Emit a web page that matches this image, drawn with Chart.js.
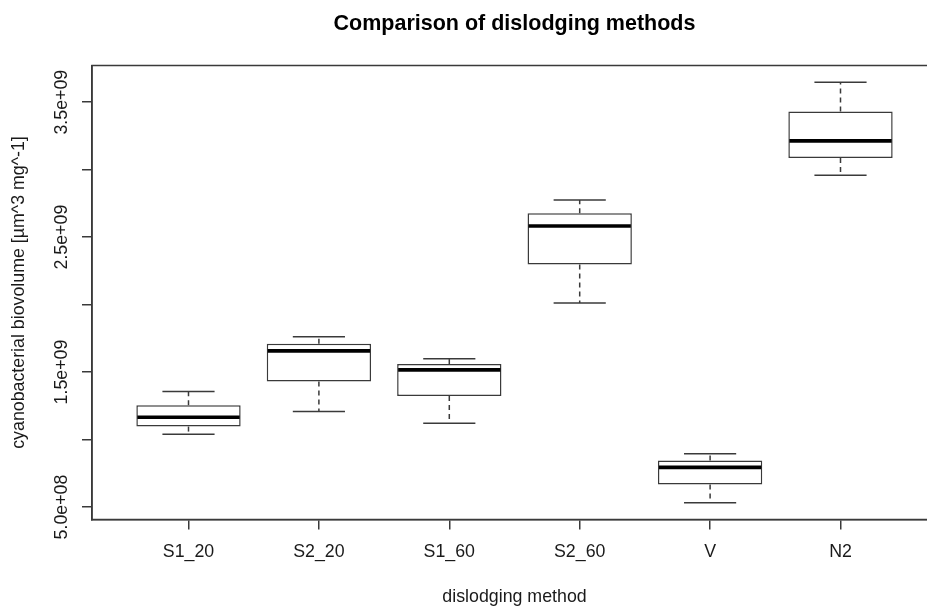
<!DOCTYPE html>
<html>
<head>
<meta charset="utf-8">
<script src="https://cdn.jsdelivr.net/npm/chart.js@4.4.1/dist/chart.umd.min.js"></script>
<style>
  html, body { margin: 0; padding: 0; background: #fff; overflow: hidden; }
  #wrap { width: 940px; height: 608px; }
  canvas { display: block; }
</style>
</head>
<body>
<div id="wrap"><canvas id="myChart" width="940" height="608"></canvas></div>
<script>
// values
var methods = ['S1_20', 'S2_20', 'S1_60', 'S2_60', 'V', 'N2'];
var whiskerLow    = [1.039e9, 1.207e9, 1.121e9, 2.011e9, 5.32e8, 2.958e9];
var lowerQuartile = [1.096e9, 1.430e9, 1.323e9, 2.297e9, 6.66e8, 3.087e9];
var medians       = [1.165e9, 1.657e9, 1.516e9, 2.582e9, 7.94e8, 3.213e9];
var upperQuartile = [1.254e9, 1.709e9, 1.559e9, 2.676e9, 8.44e8, 3.430e9];
var whiskerHigh   = [1.355e9, 1.761e9, 1.598e9, 2.775e9, 8.95e8, 3.647e9];
var yTicks      = [5e8, 1e9, 1.5e9, 2e9, 2.5e9, 3e9, 3.5e9];
var yTickLabels = ['5.0e+08', '', '1.5e+09', '', '2.5e+09', '', '3.5e+09'];

var lineColor = '#3a3a3a';
var textColor = '#1a1a1a';
Chart.defaults.font.family = '"Liberation Sans", Arial, sans-serif';
Chart.defaults.color = textColor;

// R style range: data range stretched by 4%
var lo = Math.min.apply(null, whiskerLow);
var hi = Math.max.apply(null, whiskerHigh);
var pad = (hi - lo) * 0.04;

// whiskers, medians, frame and rotated y labels
var boxExtras = {
  id: 'boxExtras',
  afterDatasetsDraw: function (chart) {
    var ctx = chart.ctx, x = chart.scales.x, y = chart.scales.y;
    var area = chart.chartArea;
    function seg(x1, y1, x2, y2) {
      ctx.beginPath(); ctx.moveTo(x1, y1); ctx.lineTo(x2, y2); ctx.stroke();
    }
    ctx.save();
    methods.forEach(function (m, i) {
      var cx = x.getPixelForValue(i + 1);
      var half = x.getPixelForValue(i + 1.4) - cx;
      var cap = x.getPixelForValue(i + 1.2) - cx;
      var yHi = y.getPixelForValue(whiskerHigh[i]);
      var yLo = y.getPixelForValue(whiskerLow[i]);
      ctx.strokeStyle = lineColor;
      ctx.lineWidth = 1.5;
      ctx.setLineDash([5, 4]);
      seg(cx, y.getPixelForValue(upperQuartile[i]), cx, yHi);
      seg(cx, y.getPixelForValue(lowerQuartile[i]), cx, yLo);
      ctx.setLineDash([]);
      seg(cx - cap, yHi, cx + cap, yHi);
      seg(cx - cap, yLo, cx + cap, yLo);
      ctx.strokeStyle = '#000';
      ctx.lineWidth = 3.6;
      var ym = y.getPixelForValue(medians[i]);
      seg(cx - half + 1, ym, cx + half - 1, ym);
    });
    ctx.strokeStyle = lineColor;
    ctx.lineWidth = 1.5;
    ctx.strokeRect(area.left, area.top, area.right - area.left, area.bottom - area.top);

    ctx.fillStyle = textColor;
    ctx.font = '17.8px "Liberation Sans", Arial, sans-serif';
    ctx.textAlign = 'center';
    ctx.textBaseline = 'middle';
    yTicks.forEach(function (v, i) {
      if (!yTickLabels[i]) return;
      ctx.save();
      ctx.translate(62, y.getPixelForValue(v));
      ctx.rotate(-Math.PI / 2);
      ctx.fillText(yTickLabels[i], 0, 0);
      ctx.restore();
    });
    ctx.restore();
  }
};

var ctx = document.getElementById('myChart').getContext('2d');
var chart = new Chart(ctx, {
  type: 'bar',
  data: {
    datasets: [{
      data: methods.map(function (m, i) {
        return { x: i + 1, y: [lowerQuartile[i], upperQuartile[i]] };
      }),
      backgroundColor: '#ffffff',
      borderColor: lineColor,
      borderWidth: 1.5,
      borderSkipped: false,
      categoryPercentage: 1,
      barPercentage: 0.8
    }]
  },
  options: {
    responsive: false,
    animation: false,
    layout: { padding: { top: 0, left: 0, right: 3, bottom: 0 } },
    plugins: {
      legend: { display: false },
      tooltip: { enabled: false },
      title: {
        display: true,
        text: 'Comparison of dislodging methods',
        fullSize: false,
        color: '#000',
        font: { size: 21.5, weight: 'bold' },
        padding: { top: 11, bottom: 28.7 }
      }
    },
    scales: {
      x: {
        type: 'linear',
        min: 0.26,
        max: 6.74,
        offset: false,
        afterBuildTicks: function (scale) {
          scale.ticks = methods.map(function (m, i) { return { value: i + 1 }; });
        },
        afterFit: function (scale) { scale.height = 88.5; },
        grid: {
          display: true, offset: false, drawOnChartArea: false, drawTicks: true,
          tickLength: 10, color: lineColor, lineWidth: 1.5
        },
        border: { display: true, color: lineColor, width: 1.5 },
        ticks: {
          autoSkip: false, maxRotation: 0, padding: 12,
          font: { size: 17.8 }, color: textColor,
          callback: function (value) { return methods[Math.round(value) - 1]; }
        },
        title: {
          display: true, text: 'dislodging method', color: textColor,
          font: { size: 17.8 }, padding: { top: 0, bottom: 0 }
        }
      },
      y: {
        min: lo - pad,
        max: hi + pad,
        afterBuildTicks: function (scale) {
          scale.ticks = yTicks.map(function (v) { return { value: v }; });
        },
        afterFit: function (scale) { scale.width = 92; },
        grid: {
          display: true, drawOnChartArea: false, drawTicks: true,
          tickLength: 10, color: lineColor, lineWidth: 1.5
        },
        border: { display: true, color: lineColor, width: 1.5 },
        ticks: { display: false },
        title: {
          display: true, text: 'cyanobacterial biovolume [µm^3 mg^-1]', color: textColor,
          font: { size: 17.8 }, padding: { top: 8, bottom: 0 }
        }
      }
    }
  },
  plugins: [boxExtras]
});
</script>
</body>
</html>
